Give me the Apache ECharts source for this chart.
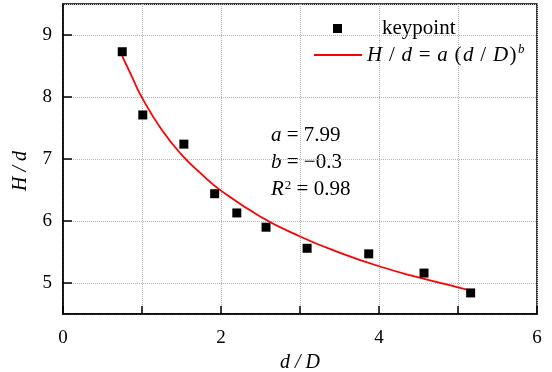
<!DOCTYPE html>
<html>
<head>
<meta charset="utf-8">
<script src="https://cdn.jsdelivr.net/npm/echarts@6/dist/echarts.min.js"></script>
<style>
  html, body { margin: 0; padding: 0; background: #fff; }
  #chart { width: 552px; height: 372px; }
</style>
</head>
<body>
<div id="chart"></div>
<script>
// keypoints
const keyX = [0.75, 1.01, 1.53, 1.92, 2.20, 2.57, 3.09, 3.87, 4.57, 5.16];
const keyY = [8.73, 7.71, 7.24, 6.44, 6.13, 5.90, 5.56, 5.47, 5.16, 4.84];
// fitted curve
const fitX = [0.75, 0.875, 1.0, 1.25, 1.5, 1.75, 2.0, 2.5, 3.0, 3.5, 4.0, 4.5, 5.0, 5.2];
const fitY = [8.66, 8.32, 7.99, 7.47, 7.07, 6.76, 6.49, 6.07, 5.75, 5.49, 5.27, 5.09, 4.93, 4.87];
const xTicks = [0, 2, 4, 6];
const yTicks = [5, 6, 7, 8, 9];

const font = "'Liberation Serif', 'Times New Roman', serif";
const myChart = echarts.init(document.getElementById("chart"));

const richText = {
  k: { fontFamily: font, fontSize: 21, color: "#000", padding: [0, 0, 0, 35] },
  i: { fontFamily: font, fontSize: 21, fontStyle: "italic", color: "#000", lineHeight: 24 },
  n: { fontFamily: font, fontSize: 21, color: "#000", lineHeight: 24, padding: [0, 1.5, 0, 1.5] },
  sup: { fontFamily: font, fontSize: 13, fontStyle: "italic", color: "#000", verticalAlign: "top", lineHeight: 24 },
};

myChart.setOption({
  animation: false,
  textStyle: { fontFamily: font },
  grid: {
    left: 63,
    right: 15,
    top: 4,
    bottom: 58,
    outerBoundsMode: "none",
    show: true,
    borderColor: "#000",
    borderWidth: 1.5,
  },
  legend: [
    {
      // 散点图例
      left: 333,
      top: 18,
      padding: 0,
      itemWidth: 9,
      itemHeight: 9,
      itemGap: 0,
      data: ["keypoint"],
      formatter: () => "{k|keypoint}",
      textStyle: { fontFamily: font, fontSize: 21, color: "#000", rich: richText },
    },
    {
      // 拟合曲线图例
      left: 313,
      top: 43,
      padding: 0,
      itemWidth: 48,
      itemHeight: 9,
      itemGap: 0,
      data: [{ name: "fit", itemStyle: { opacity: 0 } }],
      formatter: () =>
        "{i|H}{n| / }{i|d}{n| = }{i|a}{n| (}{i|d}{n| / }{i|D}{n|)}{sup|b}",
      textStyle: { fontFamily: font, fontSize: 21, color: "#000", rich: richText },
    },
  ],
  xAxis: {
    type: "value",
    min: 0,
    max: 6,
    interval: 1,
    name: "d / D",
    nameLocation: "middle",
    nameGap: 39,
    nameTextStyle: { fontFamily: font, fontSize: 20, fontStyle: "italic", color: "#000" },
    axisLine: { show: true, lineStyle: { color: "#000", width: 1.5 } },
    axisTick: { show: true, inside: true, length: 8, lineStyle: { color: "#000", width: 1.5 } },
    axisLabel: {
      fontFamily: font,
      fontSize: 19,
      color: "#000",
      margin: 15,
      formatter: (v) => (xTicks.indexOf(v) >= 0 ? String(v) : ""),
    },
    splitLine: { show: true, lineStyle: { color: "#b5b5b5", type: "dotted", width: 1 } },
  },
  yAxis: {
    type: "value",
    min: 4.5,
    max: 9.5,
    splitNumber: 5,
    name: "H / d",
    nameLocation: "middle",
    nameGap: 32,
    nameTextStyle: { fontFamily: font, fontSize: 20, fontStyle: "italic", color: "#000", padding: [0, 0, 0, -24] },
    axisLine: { show: true, lineStyle: { color: "#000", width: 1.5 } },
    axisTick: { show: true, inside: true, length: 9, lineStyle: { color: "#000", width: 1.5 } },
    axisLabel: {
      fontFamily: font,
      fontSize: 19,
      color: "#000",
      margin: 11,
      showMinLabel: false,
      showMaxLabel: false,
      formatter: (v) => (yTicks.indexOf(v) >= 0 ? String(v) : ""),
    },
    splitLine: { show: true, lineStyle: { color: "#b5b5b5", type: "dotted", width: 1 } },
  },
  graphic: [
    {
      type: "text",
      left: 271,
      top: 125,
      style: {
        text: "{i|a}{n| = 7.99}\n{i|b}{n| = \u22120.3}\n{i|R}{sup|2}{n| = 0.98}",
        fill: "#000",
        rich: {
          i: { fontFamily: font, fontSize: 21, fontStyle: "italic", fill: "#000", lineHeight: 27 },
          n: { fontFamily: font, fontSize: 21, fill: "#000", lineHeight: 27 },
          sup: { fontFamily: font, fontSize: 13, fill: "#000", verticalAlign: "top", lineHeight: 27, padding: [3, 0, 0, 1] },
        },
      },
    },
  ],
  series: [
    {
      name: "fit",
      type: "line",
      data: fitX.map((x, i) => [x, fitY[i]]),
      smooth: true,
      showSymbol: false,
      symbol: "none",
      lineStyle: { color: "#ff0000", width: 1.8 },
      itemStyle: { color: "#ff0000" },
      z: 2,
    },
    {
      name: "keypoint",
      type: "scatter",
      data: keyX.map((x, i) => [x, keyY[i]]),
      symbol: "rect",
      symbolSize: 9,
      itemStyle: { color: "#000", opacity: 1 },
      z: 3,
    },
  ],
});
</script>
</body>
</html>
